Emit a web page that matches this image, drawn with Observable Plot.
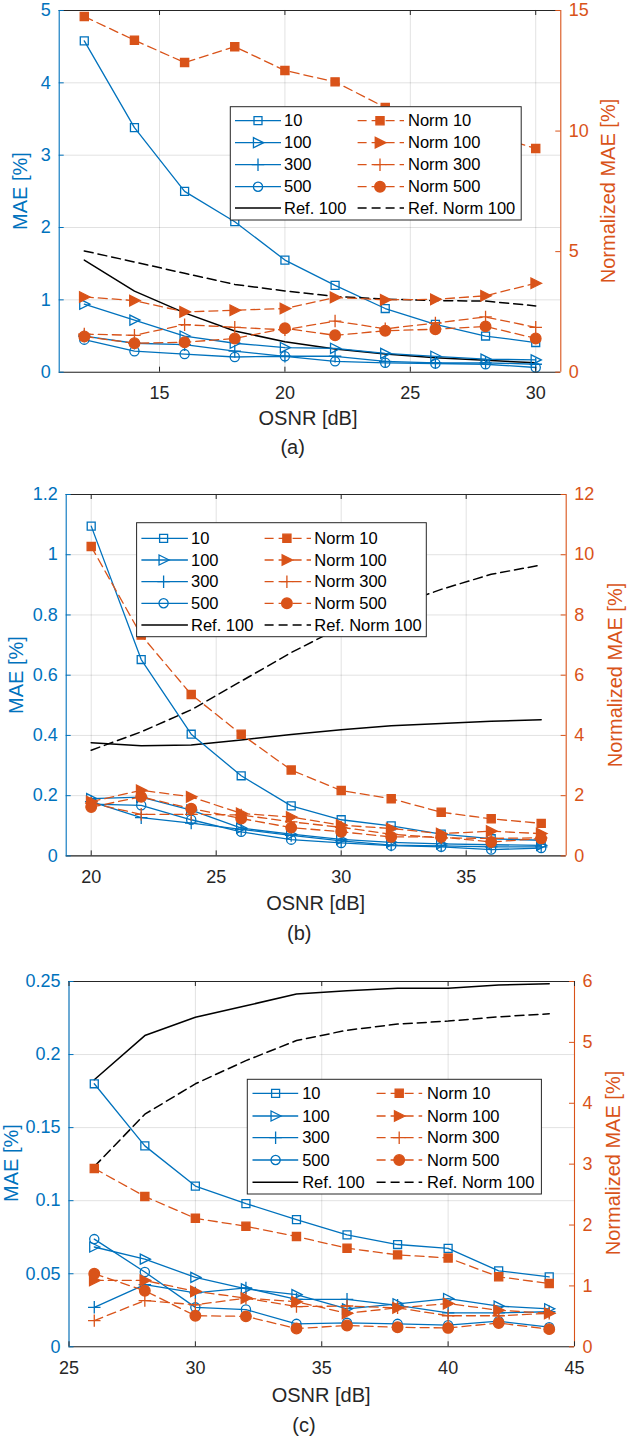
<!DOCTYPE html>
<html><head><meta charset="utf-8">
<script src="https://cdn.jsdelivr.net/npm/d3@7"></script>
<script src="https://cdn.jsdelivr.net/npm/@observablehq/plot@0.6"></script>
<style>
body{margin:0;background:#fff;}
#root{position:relative;width:634px;height:1436px;overflow:hidden;font-family:"Liberation Sans",Arial,sans-serif;}
.lab{position:absolute;white-space:nowrap;line-height:1;transform:translate(-50%,-50%);color:#262626;font-size:20px;}
.rot{transform:translate(-50%,-50%) rotate(-90deg);}
</style></head><body><div id="root"></div><script>
// ---------- DATA ----------
// Panel (a)
const osnrA = [12,14,16,18,20,22,24,26,28,30];
const a_mae10  = [4.58,3.38,2.50,2.08,1.55,1.20,0.88,0.66,0.50,0.41];
const a_mae100 = [0.94,0.72,0.50,0.40,0.34,0.33,0.26,0.22,0.18,0.17];
const a_mae300 = [0.50,0.40,0.38,0.29,0.22,0.22,0.15,0.13,0.13,0.11];
const a_mae500 = [0.45,0.29,0.25,0.21,0.22,0.15,0.13,0.12,0.11,0.065];
const a_ref100 = [1.55,1.12,0.82,0.57,0.42,0.32,0.25,0.20,0.165,0.13];
const a_norm10  = [14.75,13.77,12.84,13.5,12.51,12.04,10.98,10.3,9.9,9.28];
const a_norm100 = [3.12,2.97,2.5,2.57,2.64,3.1,3.0,3.02,3.17,3.69];
const a_norm300 = [1.58,1.53,1.97,1.86,1.76,2.12,1.8,2.04,2.29,1.86];
const a_norm500 = [1.48,1.2,1.24,1.4,1.82,1.53,1.72,1.78,1.9,1.4];
const a_refNorm100 = [5.03,4.57,4.1,3.64,3.37,3.14,3.03,2.97,2.95,2.75];
// Panel (b)
const osnrB = [20,22,24,26,28,30,32,34,36,38];
const b_mae10  = [1.095,0.652,0.404,0.266,0.166,0.12,0.10,0.072,0.057,0.052];
const b_mae100 = [0.19,0.195,0.152,0.092,0.072,0.055,0.045,0.04,0.037,0.035];
const b_mae300 = [0.18,0.127,0.109,0.088,0.068,0.05,0.036,0.033,0.03,0.03];
const b_mae500 = [0.172,0.168,0.12,0.08,0.054,0.043,0.034,0.03,0.021,0.026];
const b_ref100 = [0.376,0.366,0.368,0.385,0.403,0.419,0.432,0.44,0.447,0.452];
const b_norm10  = [10.27,7.33,5.36,4.04,2.85,2.17,1.9,1.45,1.23,1.08];
const b_norm100 = [1.8,2.18,1.96,1.41,1.29,1.02,0.91,0.74,0.82,0.74];
const b_norm300 = [1.75,1.38,1.38,1.36,1.13,0.95,0.72,0.6,0.58,0.6];
const b_norm500 = [1.62,1.96,1.57,1.24,0.94,0.8,0.63,0.63,0.46,0.58];
const b_refNorm100 = [3.51,4.12,4.85,5.8,6.75,7.6,8.25,8.85,9.35,9.66];
// Panel (c)
const osnrC = [26,28,30,32,34,36,38,40,42,44];
const c_mae10  = [0.180,0.1375,0.110,0.098,0.087,0.0766,0.070,0.0673,0.052,0.0478];
const c_mae100 = [0.0683,0.060,0.0475,0.0396,0.0357,0.026,0.0294,0.033,0.0278,0.026];
const c_mae300 = [0.027,0.0425,0.0369,0.0403,0.0325,0.0325,0.0284,0.0232,0.0232,0.024];
const c_mae500 = [0.0737,0.0512,0.027,0.0255,0.0157,0.0164,0.0157,0.0148,0.0175,0.0134];
const c_ref100 = [0.1828,0.213,0.2255,0.2334,0.2414,0.2437,0.2453,0.2453,0.2476,0.2484];
const c_norm10  = [2.93,2.47,2.11,1.98,1.81,1.62,1.51,1.46,1.15,1.04];
const c_norm100 = [1.09,1.09,0.91,0.80,0.74,0.55,0.64,0.71,0.60,0.55];
const c_norm300 = [0.43,0.76,0.69,0.80,0.66,0.67,0.64,0.51,0.51,0.55];
const c_norm500 = [1.20,0.92,0.51,0.50,0.30,0.35,0.32,0.31,0.39,0.29];
const c_refNorm100 = [2.96,3.82,4.32,4.70,5.03,5.20,5.30,5.35,5.42,5.47];

// Tick labels
const xTicksA = [15,20,25,30], yTicksA = [0,1,2,3,4,5], rTicksA = [0,5,10,15];
const xTicksB = [20,25,30,35], yTicksB = [0,0.2,0.4,0.6,0.8,1,1.2], rTicksB = [0,2,4,6,8,10,12];
const xTicksC = [25,30,35,40,45], yTicksC = [0,0.05,0.1,0.15,0.2,0.25], rTicksC = [0,1,2,3,4,5,6];
const legendLeft = ["10","100","300","500","Ref. 100"];
const legendRight = ["Norm 10","Norm 100","Norm 300","Norm 500","Ref. Norm 100"];

// ---------- STYLE / LAYOUT ----------
const BLUE = "#0072BD", ORANGE = "#D95319", INK = "#262626";
const FONT = "'Liberation Sans', Arial, sans-serif";
const DASH = "9,5";
const triRight = { draw(ctx, size) { const s = Math.sqrt(size) * 0.62; ctx.moveTo(s*1.1, 0); ctx.lineTo(-s*0.9, -s); ctx.lineTo(-s*0.9, s); ctx.closePath(); } };
const SYMS = ["square", triRight, "plus", "circle"];
const D3SYMS = [d3.symbolSquare, triRight, d3.symbolPlus, d3.symbolCircle];
const RS = [4.5, 4.6, 4.1, 4.6];
const RSF = [4.6, 4.8, 4.1, 5.3];

const panels = [
  {osnr: osnrA, L:[a_mae10,a_mae100,a_mae300,a_mae500], ref:a_ref100, R:[a_norm10,a_norm100,a_norm300,a_norm500], refN:a_refNorm100,
   xDomain:[11,31], yMax:5, rMax:15, xt:xTicksA, yt:yTicksA, rt:rTicksA,
   left:58.7, right:560.3, top:10, bottom:371.7,
   xlab:[308,418], cap:["(a)",292.7,447], ylab:20, rlab:608,
   leg:{box:[230.3,106.7,521.2,220], rows:[120.7,142.7,164.7,186.7,208], c1:[235,281,258,284], c2:[357.6,404,380,408]}},
  {osnr: osnrB, L:[b_mae10,b_mae100,b_mae300,b_mae500], ref:b_ref100, R:[b_norm10,b_norm100,b_norm300,b_norm500], refN:b_refNorm100,
   xDomain:[19,39], yMax:1.2, rMax:12, xt:xTicksB, yt:yTicksB, rt:rTicksB,
   left:65.7, right:565.7, top:494.3, bottom:855.7,
   xlab:[315.7,902.7], cap:["(b)",299.3,932.7], ylab:16, rlab:615,
   leg:{box:[136.6,522.7,426.3,636.7], rows:[538.3,560,581.7,603.3,625], c1:[141.4,187.9,163.6,191], c2:[264.6,311,286.9,314.3]}},
  {osnr: osnrC, L:[c_mae10,c_mae100,c_mae300,c_mae500], ref:c_ref100, R:[c_norm10,c_norm100,c_norm300,c_norm500], refN:c_refNorm100,
   xDomain:[25,45], yMax:0.25, rMax:6, xt:xTicksC, yt:yTicksC, rt:rTicksC,
   left:68.5, right:574, top:980.7, bottom:1346,
   xlab:[321.2,1395], cap:["(c)",304,1425], ylab:11, rlab:613,
   leg:{box:[247.3,1079.3,541.4,1194], rows:[1093.3,1116,1137.7,1160,1182.3], c1:[252.5,298.2,275.6,302.2], c2:[376.6,422.2,399.2,427.1]}}
];

const root = document.getElementById("root");
const fmt = v => String(Math.round(v * 10000) / 10000);

function label(text, x, y, cls, color) {
  const d = document.createElement("div");
  d.className = "lab" + (cls ? " " + cls : "");
  d.textContent = text;
  d.style.left = x + "px"; d.style.top = y + "px";
  if (color) d.style.color = color;
  root.appendChild(d);
}

for (const p of panels) {
  const w = p.right - p.left, h = p.bottom - p.top;
  const mt = 10, mb = 45;
  const k = p.yMax / p.rMax;
  const rows = (arr, s) => p.osnr.map((x, i) => ({x, y: arr[i] * s}));
  const marks = [
    Plot.gridX(p.xt, {stroke: "#000", strokeOpacity: 0.12}),
    Plot.gridY(p.yt, {stroke: "#000", strokeOpacity: 0.12}),
  ];
  marks.push(Plot.line(rows(p.ref, 1), {x: "x", y: "y", stroke: "#000", strokeWidth: 1.5}));
  p.L.forEach((arr, i) => {
    const d = rows(arr, 1);
    marks.push(Plot.line(d, {x: "x", y: "y", stroke: BLUE, strokeWidth: 1.3}));
    marks.push(Plot.dot(d, {x: "x", y: "y", symbol: SYMS[i], r: RS[i], stroke: BLUE, fill: "none", strokeWidth: 1.3}));
  });
  marks.push(Plot.line(rows(p.refN, k), {x: "x", y: "y", stroke: "#000", strokeWidth: 1.5, strokeDasharray: DASH}));
  p.R.forEach((arr, i) => {
    const d = rows(arr, k);
    marks.push(Plot.line(d, {x: "x", y: "y", stroke: ORANGE, strokeWidth: 1.3, strokeDasharray: DASH}));
    marks.push(Plot.dot(d, {x: "x", y: "y", symbol: SYMS[i], r: RSF[i], stroke: ORANGE, fill: i === 2 ? "none" : ORANGE, strokeWidth: 1.3}));
  });
  marks.push(
    Plot.ruleY([0], {stroke: INK, strokeWidth: 1.1}),
    Plot.ruleY([p.yMax], {stroke: INK, strokeWidth: 1.1}),
    Plot.ruleX([p.xDomain[0]], {stroke: BLUE, strokeWidth: 1.1}),
    Plot.ruleX([p.xDomain[1]], {stroke: ORANGE, strokeWidth: 1.1}),
    Plot.tickX(p.xt, {x: d => d, stroke: INK, insetTop: h - 5}),
    Plot.tickX(p.xt, {x: d => d, stroke: INK, insetBottom: h - 5}),
    Plot.tickY(p.yt, {y: d => d, stroke: BLUE, insetRight: w - 5}),
    Plot.tickY(p.rt.map(v => v * k), {y: d => d, stroke: ORANGE, insetLeft: w - 5}),
    Plot.axisX(p.xt, {tickSize: 0, tickPadding: 14, color: INK, label: null, fontSize: 18}),
    Plot.axisY(p.yt, {anchor: "left", tickSize: 0, tickPadding: 8.5, color: BLUE, label: null, fontSize: 18, tickFormat: fmt}),
    Plot.axisY(p.rt.map(v => v * k), {anchor: "right", tickSize: 0, tickPadding: 8, color: ORANGE, label: null, fontSize: 18, tickFormat: d => fmt(d / k)})
  );
  const svg = Plot.plot({
    width: 634, height: h + mt + mb,
    marginLeft: p.left, marginRight: 634 - p.right, marginTop: mt, marginBottom: mb,
    x: {domain: p.xDomain, label: null},
    y: {domain: [0, p.yMax], label: null},
    style: {fontFamily: FONT, fontSize: "18px", background: "transparent", overflow: "visible"},
    marks
  });
  svg.style.position = "absolute"; svg.style.left = "0px"; svg.style.top = (p.top - mt) + "px";
  root.appendChild(svg);

  label("OSNR [dB]", p.xlab[0], p.xlab[1]);
  label(p.cap[0], p.cap[1], p.cap[2]);
  label("MAE [%]", p.ylab, (p.top + p.bottom) / 2, "rot", BLUE);
  label("Normalized MAE [%]", p.rlab, (p.top + p.bottom) / 2, "rot", ORANGE);
}

// ---------- LEGENDS ----------
const ov = d3.select(root).append("svg")
  .attr("width", 634).attr("height", 1436)
  .style("position", "absolute").style("left", "0px").style("top", "0px")
  .style("font-family", FONT);
for (const p of panels) {
  const L = p.leg;
  ov.append("rect").attr("x", L.box[0]).attr("y", L.box[1])
    .attr("width", L.box[2] - L.box[0]).attr("height", L.box[3] - L.box[1])
    .attr("fill", "#fff").attr("stroke", INK).attr("stroke-width", 1);
  [[legendLeft, L.c1, false], [legendRight, L.c2, true]].forEach(([names, c, isNorm]) => {
    names.forEach((name, i) => {
      const y = L.rows[i];
      const isRef = i === 4;
      const col = isRef ? "#000" : (isNorm ? ORANGE : BLUE);
      ov.append("line").attr("x1", c[0]).attr("x2", c[1]).attr("y1", y).attr("y2", y)
        .attr("stroke", col).attr("stroke-width", isRef ? 1.5 : 1.3)
        .attr("stroke-dasharray", isNorm ? DASH : null);
      if (!isRef) {
        const r = isNorm ? RSF[i] : RS[i];
        ov.append("path").attr("transform", `translate(${c[2]},${y})`)
          .attr("d", d3.symbol().type(D3SYMS[i]).size(Math.PI * r * r)())
          .attr("stroke", col).attr("stroke-width", 1.3)
          .attr("fill", isNorm && i !== 2 ? col : "none");
      }
      ov.append("text").attr("x", c[3]).attr("y", y).attr("dy", "0.35em")
        .attr("font-size", 16.5).attr("fill", "#000").text(name);
    });
  });
}
</script></body></html>
